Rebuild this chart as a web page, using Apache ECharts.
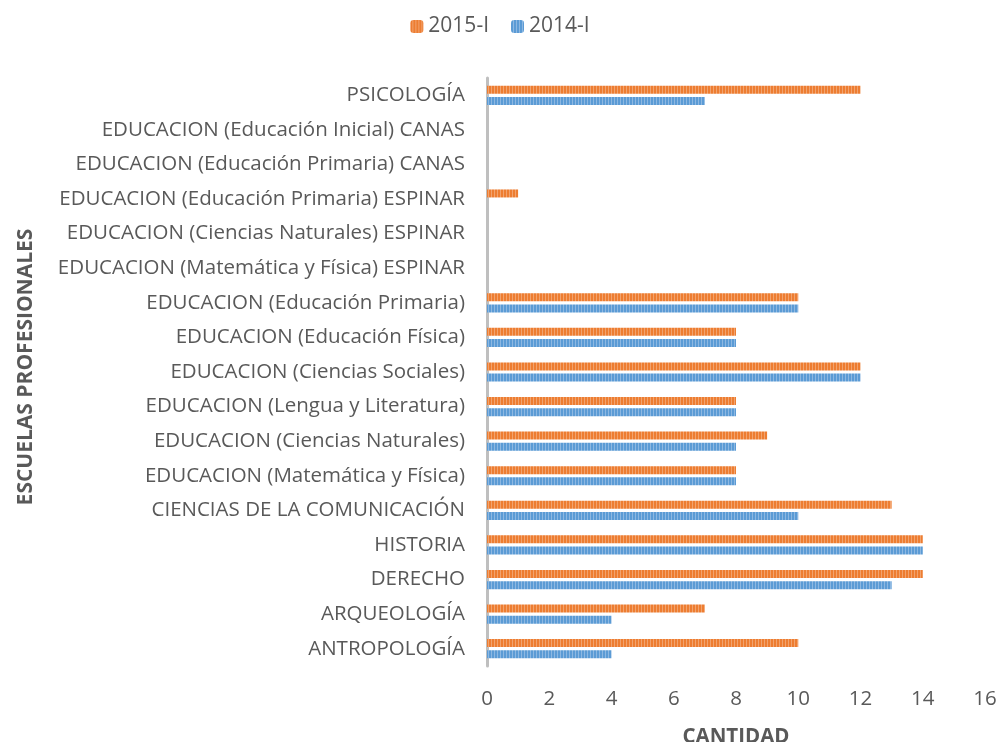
<!DOCTYPE html>
<html>
<head>
<meta charset="utf-8">
<script src="https://cdn.jsdelivr.net/npm/echarts@6/dist/echarts.min.js"></script>
<style>
  html, body { margin: 0; padding: 0; background: #fff; }
  #chart { width: 1000px; height: 742px; }
</style>
</head>
<body>
<div id="chart"></div>
<script>
// categorias de abajo hacia arriba
var escuelas = [
  "ANTROPOLOGÍA",
  "ARQUEOLOGÍA",
  "DERECHO",
  "HISTORIA",
  "CIENCIAS DE LA COMUNICACIÓN",
  "EDUCACION (Matemática y Física)",
  "EDUCACION (Ciencias Naturales)",
  "EDUCACION (Lengua y Literatura)",
  "EDUCACION (Ciencias Sociales)",
  "EDUCACION (Educación Física)",
  "EDUCACION (Educación Primaria)",
  "EDUCACION (Matemática y Física) ESPINAR",
  "EDUCACION (Ciencias Naturales) ESPINAR",
  "EDUCACION (Educación Primaria) ESPINAR",
  "EDUCACION (Educación Primaria) CANAS",
  "EDUCACION (Educación Inicial) CANAS",
  "PSICOLOGÍA"
];
var datos2015 = [10, 7, 14, 14, 13, 8, 9, 8, 12, 8, 10, 0, 0, 1, 0, 0, 12];
var datos2014 = [4, 4, 13, 14, 10, 8, 8, 8, 12, 8, 10, 0, 0, 0, 0, 0, 7];
var ticksX = [0, 2, 4, 6, 8, 10, 12, 14, 16];

// textura rayada de las barras
function patron(base, linea) {
  var c = document.createElement("canvas");
  c.width = 3; c.height = 8;
  var ctx = c.getContext("2d");
  ctx.fillStyle = base;
  ctx.fillRect(0, 0, 3, 8);
  ctx.fillStyle = linea;
  ctx.fillRect(2, 0, 1, 8);
  return { image: c, repeat: "repeat" };
}

var myChart = echarts.init(document.getElementById("chart"));
var fuente = "'Open Sans', sans-serif";
var option = {
  textStyle: { fontFamily: fuente },
  legend: {
    top: 11,
    left: "center",
    data: ["2015-I", "2014-I"],
    itemWidth: 13,
    itemHeight: 13,
    itemGap: 22,
    textStyle: { fontSize: 21, color: "#595959", fontFamily: fuente }
  },
  grid: {
    left: 487,
    right: 15,
    top: 78,
    bottom: 76,
    outerBoundsMode: "none"
  },
  xAxis: {
    type: "value",
    min: ticksX[0],
    max: ticksX[ticksX.length - 1],
    interval: 2,
    name: "CANTIDAD",
    nameLocation: "middle",
    nameGap: 61,
    nameTextStyle: { fontSize: 20.5, fontWeight: "bold", color: "#595959", fontFamily: fuente },
    axisLine: { show: false },
    axisTick: { show: false },
    splitLine: { show: false },
    axisLabel: { fontSize: 20.5, color: "#595959", margin: 23, fontFamily: fuente }
  },
  yAxis: {
    type: "category",
    data: escuelas,
    name: "ESCUELAS PROFESIONALES",
    nameLocation: "middle",
    nameGap: 450,
    nameRotate: 90,
    nameTextStyle: { fontSize: 21, fontWeight: "bold", color: "#595959", fontFamily: fuente, padding: [0, 0, 0, 10] },
    axisLine: { show: true, lineStyle: { color: "#BFBFBF", width: 3 } },
    axisTick: { show: false },
    axisLabel: { fontSize: 20.5, color: "#595959", margin: 22, fontFamily: fuente }
  },
  series: [
    {
      name: "2015-I",
      type: "bar",
      data: datos2015,
      barWidth: 8,
      barGap: "40%",
      itemStyle: { color: patron("#ED7D31", "#F2A36E") }
    },
    {
      name: "2014-I",
      type: "bar",
      data: datos2014,
      barWidth: 8,
      barGap: "40%",
      itemStyle: { color: patron("#5B9BD5", "#8DB8E2") }
    }
  ]
};
myChart.setOption(option);
</script>
</body>
</html>
